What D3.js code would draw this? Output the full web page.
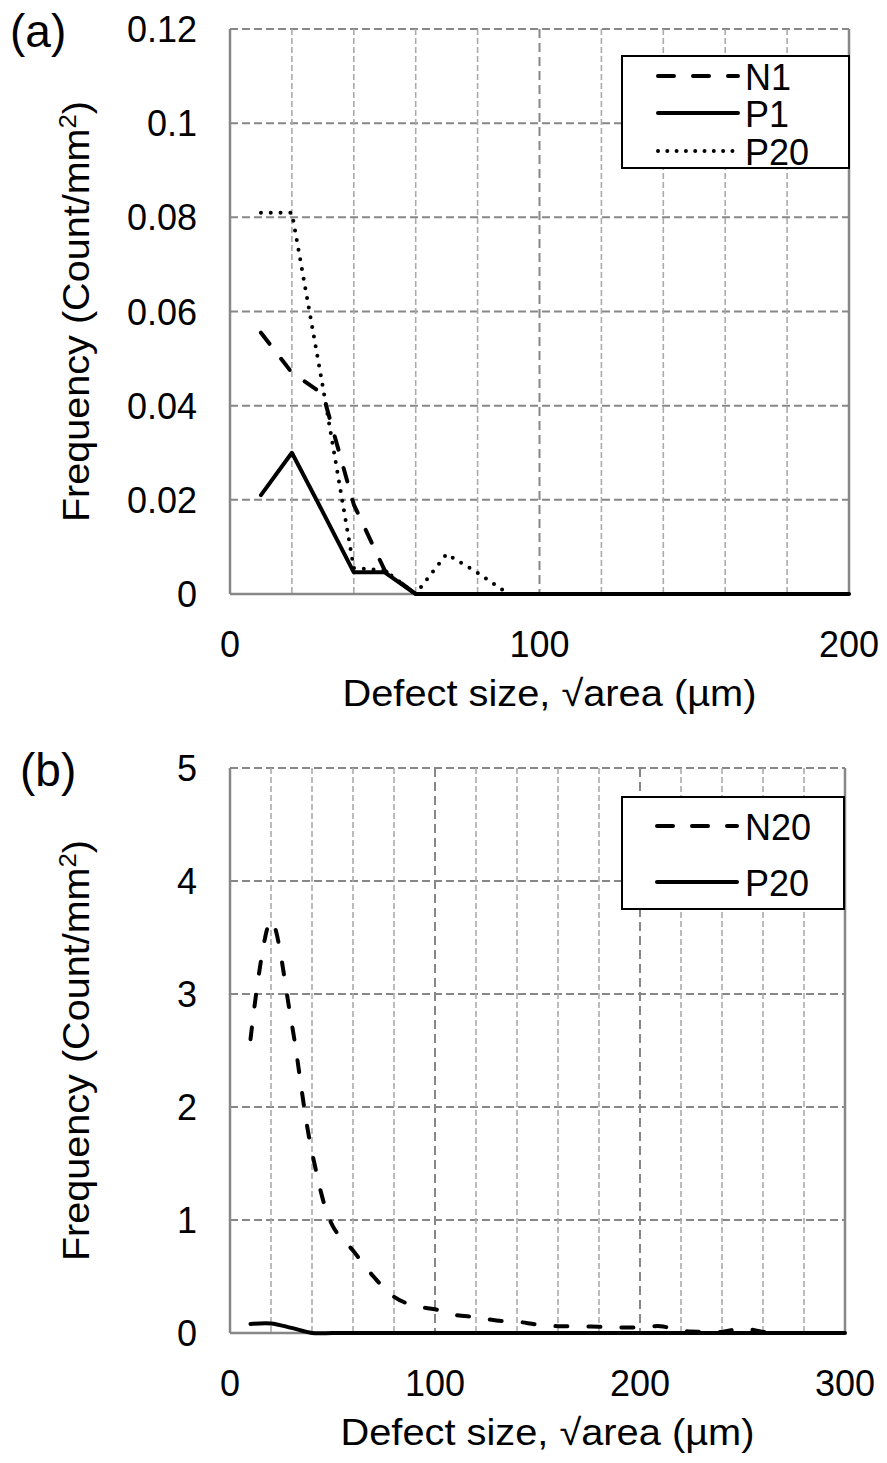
<!DOCTYPE html>
<html>
<head>
<meta charset="utf-8">
<script src="https://cdn.jsdelivr.net/npm/d3@7/dist/d3.min.js"></script>
<style>
  html, body { margin: 0; padding: 0; background: #fff; }
  svg { display: block; }
  text { font-family: "Liberation Sans", Arial, sans-serif; fill: #000; }
</style>
</head>
<body>
<svg id="chart" width="887" height="1463"></svg>
<script>
// ---- Panel (a): defect size distribution, N1 / P1 / P20 ----
const sizeA = [10, 20, 30, 40, 50, 60, 70, 80, 90, 100, 110, 120, 130, 140, 150, 160, 170, 180, 190, 200];
const n1   = [0.0555, 0.047, 0.0425, 0.019, 0.005, 0, 0, 0, 0, 0, 0, 0, 0, 0, 0, 0, 0, 0, 0, 0];
const p1   = [0.021, 0.030, 0.0174, 0.0046, 0.0046, 0, 0, 0, 0, 0, 0, 0, 0, 0, 0, 0, 0, 0, 0, 0];
const p20a = [0.081, 0.081, 0.044, 0.0055, 0.005, 0, 0.0085, 0.0045, 0, 0, 0, 0, 0, 0, 0, 0, 0, 0, 0, 0];
const xTicksA = [0, 100, 200];
const yTicksA = [0, 0.02, 0.04, 0.06, 0.08, 0.1, 0.12];
const yLabelsA = ["0", "0.02", "0.04", "0.06", "0.08", "0.1", "0.12"];

// ---- Panel (b): defect size distribution, N20 / P20 ----
const sizeB = [10, 20, 30, 40, 50, 60, 70, 80, 90, 100, 110, 120, 130, 140, 150,
               160, 170, 180, 190, 200, 210, 220, 230, 240, 250, 260, 270, 280, 290, 300];
const n20  = [2.6, 3.65, 2.75, 1.6, 0.95, 0.73, 0.5, 0.32, 0.24, 0.21, 0.16, 0.14, 0.11, 0.1, 0.075,
              0.06, 0.06, 0.055, 0.05, 0.05, 0.06, 0.02, 0.01, 0.01, 0.04, 0.01, 0, 0, 0, 0];
const p20b = [0.08, 0.085, 0.045, 0, 0, 0, 0, 0, 0, 0, 0, 0, 0, 0, 0,
              0, 0, 0, 0, 0, 0, 0, 0, 0, 0, 0, 0, 0, 0, 0];
const xTicksB = [0, 100, 200, 300];
const yTicksB = [0, 1, 2, 3, 4, 5];
const yLabelsB = ["0", "1", "2", "3", "4", "5"];

const xTitle = "Defect size, \u221Aarea (\u00B5m)";

const svg = d3.select("#chart");

const GRID_DARK = "#878787";
const GRID_LIGHT = "#ababab";

function drawPanel(cfg) {
  const x = d3.scaleLinear().domain(cfg.xDomain).range([cfg.left, cfg.right]);
  const y = d3.scaleLinear().domain(cfg.yDomain).range([cfg.bottom, cfg.top]);
  const g = svg.append("g");

  // horizontal gridlines
  g.selectAll(null).data(cfg.yTicks.slice(1)).join("line")
    .attr("x1", cfg.left).attr("x2", cfg.right)
    .attr("y1", d => y(d)).attr("y2", d => y(d))
    .attr("stroke", GRID_DARK).attr("stroke-width", 2)
    .attr("stroke-dasharray", "8,4");

  // vertical minor gridlines
  const xMax = cfg.xDomain[1];
  const minor = d3.range(cfg.minorStep, xMax, cfg.minorStep).filter(v => v % cfg.majorStep !== 0);
  g.selectAll(null).data(minor).join("line")
    .attr("x1", d => x(d)).attr("x2", d => x(d))
    .attr("y1", cfg.top).attr("y2", cfg.bottom)
    .attr("stroke", GRID_LIGHT).attr("stroke-width", 1.6)
    .attr("stroke-dasharray", "6,3");

  // vertical major gridlines
  const major = d3.range(cfg.majorStep, xMax, cfg.majorStep);
  g.selectAll(null).data(major).join("line")
    .attr("x1", d => x(d)).attr("x2", d => x(d))
    .attr("y1", cfg.top).attr("y2", cfg.bottom)
    .attr("stroke", GRID_DARK).attr("stroke-width", 2)
    .attr("stroke-dasharray", "9,5");

  // plot frame: left axis, bottom axis, right edge
  g.append("line").attr("x1", x(0)).attr("x2", x(0)).attr("y1", cfg.top).attr("y2", cfg.bottom)
    .attr("stroke", GRID_DARK).attr("stroke-width", 2.5);
  g.append("line").attr("x1", cfg.left).attr("x2", cfg.right).attr("y1", y(0)).attr("y2", y(0))
    .attr("stroke", GRID_DARK).attr("stroke-width", 2.5);
  g.append("line").attr("x1", x(xMax)).attr("x2", x(xMax)).attr("y1", cfg.top).attr("y2", cfg.bottom)
    .attr("stroke", GRID_DARK).attr("stroke-width", 2.5);

  // tick labels
  g.selectAll(null).data(cfg.yTicks).join("text")
    .attr("x", 197).attr("y", d => y(d) + 13)
    .attr("text-anchor", "end").attr("font-size", 36)
    .text((d, i) => cfg.yLabels[i]);
  g.selectAll(null).data(cfg.xTicks).join("text")
    .attr("x", d => x(d)).attr("y", y(0) + 63)
    .attr("text-anchor", "middle").attr("font-size", 36)
    .text(d => d);

  // axis titles
  g.append("text")
    .attr("x", (cfg.left + cfg.right) / 2 + 10).attr("y", y(0) + 112)
    .attr("text-anchor", "middle").attr("font-size", 37)
    .attr("textLength", 414).attr("lengthAdjust", "spacingAndGlyphs")
    .text(xTitle);
  const yt = g.append("text")
    .attr("transform", `translate(89,${(cfg.top + cfg.bottom) / 2}) rotate(-90) scale(1.07,1)`)
    .attr("text-anchor", "middle").attr("font-size", 37);
  yt.append("tspan").text("Frequency (Count/mm");
  yt.append("tspan").attr("font-size", 24).attr("dy", -13).text("2");
  yt.append("tspan").attr("dy", 13).text(")");

  // panel letter
  g.append("text").attr("x", cfg.letterX).attr("y", cfg.top + 18)
    .attr("font-size", 46).text(cfg.letter);

  // series
  const line = d3.line()
    .x((d, i) => x(cfg.xs[i]))
    .y(d => y(d))
    .curve(cfg.curve);
  cfg.series.forEach(s => {
    g.append("path").datum(s.values)
      .attr("d", line)
      .attr("fill", "none").attr("stroke", "#000")
      .attr("stroke-width", 4)
      .attr("stroke-linejoin", "round")
      .attr("stroke-linecap", s.cap)
      .attr("stroke-dasharray", s.dash);
  });

  // legend
  const L = cfg.legend;
  g.append("rect").attr("x", L.x).attr("y", L.y).attr("width", L.w).attr("height", L.h)
    .attr("fill", "#fff").attr("stroke", "#000").attr("stroke-width", 2);
  cfg.series.forEach((s, i) => {
    const cy = L.rows[i];
    g.append("line").attr("x1", L.lineX1).attr("x2", L.lineX2).attr("y1", cy).attr("y2", cy)
      .attr("stroke", "#000").attr("stroke-width", 4)
      .attr("stroke-linecap", s.cap).attr("stroke-dasharray", s.legendDash || s.dash);
    g.append("text").attr("x", L.textX).attr("y", cy + 14)
      .attr("font-size", 36).text(s.name);
  });
}

drawPanel({
  letter: "(a)", letterX: 10,
  xDomain: [0, 200], yDomain: [0, 0.12],
  left: 230, right: 849, top: 29, bottom: 594,
  minorStep: 20, majorStep: 100,
  xTicks: xTicksA, yTicks: yTicksA, yLabels: yLabelsA,
  xs: sizeA,
  curve: d3.curveLinear,
  series: [
    { name: "N1",  values: n1,   dash: "14,19", cap: "round", legendDash: "16,19" },
    { name: "P1",  values: p1,   dash: null,    cap: "round" },
    { name: "P20", values: p20a, dash: "0,9.8", cap: "round", legendDash: "0,9.3" }
  ],
  legend: { x: 622, y: 56, w: 227, h: 112, rows: [76, 113, 151],
            lineX1: 658, lineX2: 738, textX: 745 }
});

drawPanel({
  letter: "(b)", letterX: 20,
  xDomain: [0, 300], yDomain: [0, 5],
  left: 230, right: 845, top: 768, bottom: 1333,
  minorStep: 20, majorStep: 100,
  xTicks: xTicksB, yTicks: yTicksB, yLabels: yLabelsB,
  xs: sizeB,
  curve: d3.curveCatmullRom.alpha(0.5),
  series: [
    { name: "N20", values: n20,  dash: "12,21", cap: "round", legendDash: "16,19" },
    { name: "P20", values: p20b, dash: null,    cap: "round" }
  ],
  legend: { x: 622, y: 797, w: 222, h: 112, rows: [826, 882],
            lineX1: 657, lineX2: 737, textX: 745 }
});
</script>
</body>
</html>
